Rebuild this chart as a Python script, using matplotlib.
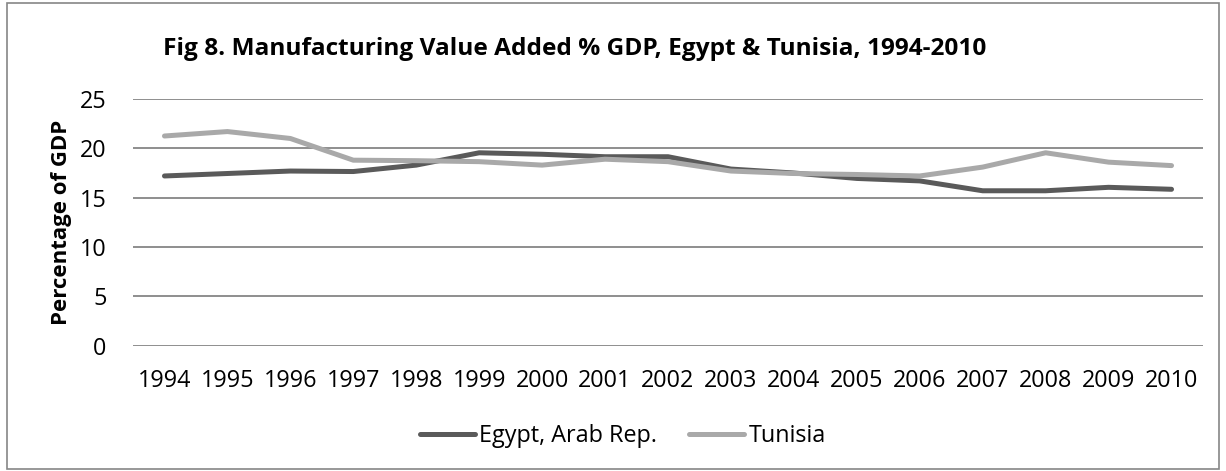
import matplotlib
matplotlib.use("Agg")
import matplotlib.pyplot as plt
import matplotlib.patches as patches
import numpy as np

# values (% of GDP)
years = ['1994', '1995', '1996', '1997', '1998', '1999', '2000', '2001', '2002',
         '2003', '2004', '2005', '2006', '2007', '2008', '2009', '2010']
egypt = [17.2, 17.45, 17.7, 17.65, 18.3, 19.55, 19.4, 19.15, 19.15,
         17.9, 17.5, 16.95, 16.7, 15.7, 15.7, 16.05, 15.85]
tunisia = [21.25, 21.7, 21.0, 18.8, 18.75, 18.65, 18.3, 18.9, 18.65,
           17.7, 17.45, 17.35, 17.2, 18.1, 19.55, 18.6, 18.25]
yticks = [0, 5, 10, 15, 20, 25]

plt.rcParams['font.family'] = ['Open Sans', 'DejaVu Sans']

W, H = 1226, 471
fig = plt.figure(figsize=(W / 100, H / 100), dpi=100)

# chart border
border = patches.Rectangle((7 / W, 2 / H), (W - 14) / W, (H - 5) / H,
                           transform=fig.transFigure, fill=False,
                           edgecolor='#868686', linewidth=1.2)
fig.patches.append(border)

ax = fig.add_axes([133 / W, 1 - 345.7 / H, (1203 - 133) / W, (345.7 - 99) / H])

x = np.arange(len(years))
ax.plot(x, egypt, color='#5a5a5a', linewidth=3.6, solid_capstyle='round',
        solid_joinstyle='round', label='Egypt, Arab Rep.', zorder=3)
ax.plot(x, tunisia, color='#a9a9a9', linewidth=3.6, solid_capstyle='round',
        solid_joinstyle='round', label='Tunisia', zorder=3)

ax.set_xlim(-0.5, len(years) - 0.5)
ax.set_ylim(0, 25)
ax.set_yticks(yticks)
ax.set_xticks(x)
ax.set_xticklabels(years)
ax.yaxis.grid(True, color='#868686', linewidth=1.3)
ax.set_axisbelow(True)
for s in ax.spines.values():
    s.set_visible(False)
ax.tick_params(axis='both', length=0, labelsize=16.8, colors='black')
ax.tick_params(axis='x', pad=17)
ax.tick_params(axis='y', pad=19)

ax.set_ylabel('Percentage of GDP', fontsize=16, fontweight='bold', labelpad=6)

fig.text(575 / W, 1 - 49 / H, 'Fig 8. Manufacturing Value Added % GDP, Egypt & Tunisia, 1994-2010',
         ha='center', va='center', fontsize=17.6, fontweight='bold')

ax.legend(loc='center', bbox_to_anchor=(623 / W, 1 - 436 / H),
          bbox_transform=fig.transFigure, ncol=2, frameon=False,
          fontsize=16.8, handlelength=2.36, handletextpad=0.17,
          columnspacing=1.37)

fig.savefig('out.png', dpi=100)
